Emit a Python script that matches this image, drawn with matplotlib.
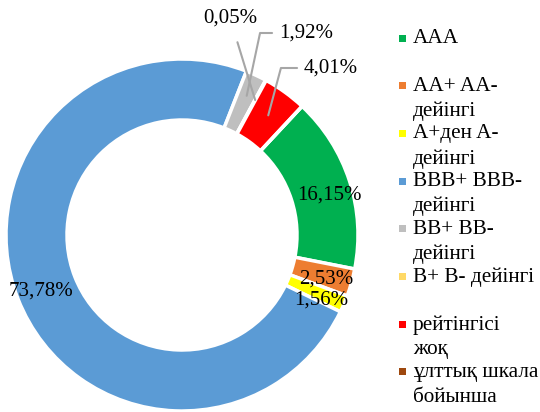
"""
Donut chart: distribution by credit rating
"""

import numpy as np
import matplotlib.pyplot as plt
from matplotlib.patches import Rectangle

plt.rcParams['font.family'] = ['Liberation Serif', 'DejaVu Serif']

# Data
labels = ['AAA', 'AA+ AA-\nдейінгі', 'A+ден A-\nдейінгі', 'BBB+ BBB-\nдейінгі',
          'BB+ BB-\nдейінгі', 'B+ B- дейінгі', 'рейтінгісі\nжоқ', 'ұлттық шкала\nбойынша']
shares = [16.15, 2.53, 1.56, 73.78, 1.92, 0.05, 4.01, 0.0]
value_text = ['16,15%', '2,53%', '1,56%', '73,78%', '1,92%', '0,05%', '4,01%', '']
colors = ['#00b050', '#ed7d31', '#ffff00', '#5b9bd5', '#bfbfbf', '#ffd966', '#ff0000', '#9e480e']

# Layout (pixel units, y measured upward)
W, H = 540, 412
CX, CY = 182, H - 235
R_OUT = 176
RING = 61
START = 90 - 43   # first slice starts 43 deg clockwise from top
FS = 15

fig = plt.figure(figsize=(W / 100, H / 100), dpi=100)
ax = fig.add_axes([0, 0, 1, 1])

wedges, _ = ax.pie(shares, colors=colors, startangle=START, counterclock=False,
                   radius=R_OUT, center=(CX, CY),
                   wedgeprops=dict(width=RING, edgecolor='white', linewidth=2.5))
ax.set_aspect('auto')
ax.set_xlim(0, W)
ax.set_ylim(0, H)
ax.axis('off')

# mid-angle of each wedge (matplotlib angle convention, degrees)
frac = np.array(shares) / sum(shares)
ends = np.cumsum(frac)
mids = START - 360 * (ends - frac / 2)
r_mid = R_OUT - RING / 2

def ring_point(i, r=r_mid):
    a = np.deg2rad(mids[i])
    return CX + r * np.cos(a), CY + r * np.sin(a)

# inside labels (small nudges as in Excel)
inside = {0: (9, -5), 1: (4, -5), 2: (5, -8), 3: (-5, -3)}
for i, (dx, dy) in inside.items():
    x, y = ring_point(i)
    ax.text(x + dx, y + dy, value_text[i], ha='center', va='center', fontsize=FS)

# outside labels with leader lines
line_col = '#a6a6a6'
x, y = ring_point(5, r_mid + 8)
ax.annotate(value_text[5], xy=(x, y), xytext=(230, H - 18), ha='center', va='center',
            fontsize=FS,
            arrowprops=dict(arrowstyle='-', color=line_col, lw=1.5, shrinkA=9, shrinkB=0))
x, y = ring_point(4, r_mid + 8)
ax.annotate(value_text[4], xy=(x, y), xytext=(279, H - 33), ha='left', va='center',
            fontsize=FS,
            arrowprops=dict(arrowstyle='-', color=line_col, lw=1.5, shrinkA=3, shrinkB=0,
                            connectionstyle='angle,angleA=0,angleB=78,rad=0'))
x, y = ring_point(6, r_mid + 2)
ax.annotate(value_text[6], xy=(x, y), xytext=(304, H - 68), ha='left', va='center',
            fontsize=FS,
            arrowprops=dict(arrowstyle='-', color=line_col, lw=1.5, shrinkA=3, shrinkB=0,
                            connectionstyle='angle,angleA=0,angleB=75,rad=0'))

# legend, Excel style (one slot per entry, wraps to two lines)
for i, (lab, col) in enumerate(zip(labels, colors)):
    yc = H - (38 + i * 47.7)
    ax.add_patch(Rectangle((399, yc - 3.5), 7, 7, facecolor=col, edgecolor='none'))
    ax.text(413, yc + 9, lab, ha='left', va='top', fontsize=15.3, linespacing=1.4)

fig.savefig('out.png', dpi=100)
